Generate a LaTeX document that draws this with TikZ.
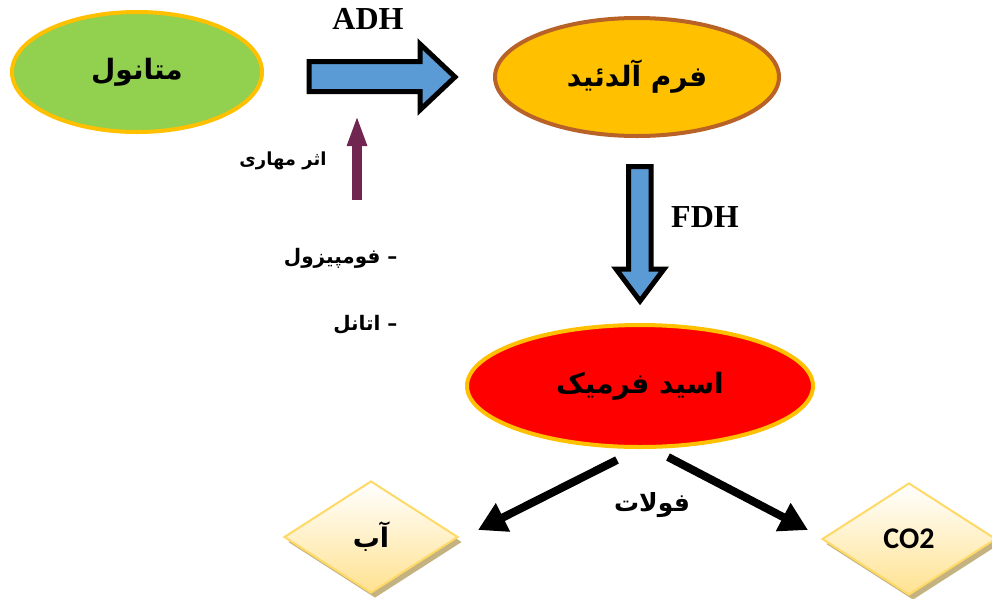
\documentclass[tikz,border=0pt]{standalone}
\usepackage{fontspec}
\setmainfont{Liberation Serif}
\newfontfamily\arabicfont[Script=Arabic]{DejaVu Sans}
\TeXXeTstate=1
\usetikzlibrary{shapes.geometric,shadows,arrows.meta}
\definecolor{leafgreen}{RGB}{146,208,80}
\definecolor{amber}{RGB}{255,192,0}
\definecolor{rust}{RGB}{184,98,40}
\definecolor{steelblue}{RGB}{91,155,213}
\definecolor{plum}{RGB}{112,38,80}
\definecolor{paleyellow}{RGB}{255,217,102}
\definecolor{cream}{RGB}{255,226,145}
\definecolor{khaki}{RGB}{196,178,128}
\newcommand{\fasize}[1]{\arabicfont\bfseries\fontsize{#1}{#1}\selectfont}

\begin{document}
\begin{tikzpicture}[x=1pt,y=-1pt,
  blob/.style={ellipse,line width=4pt,inner sep=0pt},
  product/.style={diamond,draw=paleyellow,line width=2pt,top color=white,bottom color=cream,
    minimum width=174pt,minimum height=112pt,inner sep=0pt,
    drop shadow={shadow xshift=4pt,shadow yshift=-5pt,fill=khaki,opacity=1}},
  blockarrow/.style={draw=black,line width=5pt,fill=steelblue,miter limit=10},
  flow/.style={line width=8pt,-{Triangle[width=30pt,length=28pt]}},
  enzyme/.style={font=\bfseries\fontsize{32}{32}\selectfont}]

\useasboundingbox (0,0) rectangle (992,598);

%substrates
\node[blob,fill=leafgreen,draw=amber,minimum width=250pt,minimum height=120pt] (methanol) at (137,72) {\raisebox{-5pt}{\fasize{28}\beginR متانول\endR}};
\node[blob,fill=amber,draw=rust,minimum width=284pt,minimum height=118pt] (formaldehyde) at (637,77) {\fasize{28}\beginR فرم آلدئید\endR};
\node[blob,fill=red,draw=amber,minimum width=346pt,minimum height=122pt] (formic) at (640,386) {\fasize{28}\beginR اسید فرمیک\endR};

%products
\node[product] (water) at (371,537) {\fasize{27}\beginR آب\endR};
\node[product] (carbon) at (909,539) {\fontspec{Carlito}\bfseries\fontsize{30}{30}\selectfont CO2};

%ADH step
\draw[blockarrow] (309,61.5) -- (420,61.5) -- (420,44) -- (455,77) -- (420,110) -- (420,91.5) -- (309,91.5) -- cycle;
\node[enzyme] (adh) at (368,19) {ADH};

%inhibition
\coordinate (inhtail) at (357,200);
\coordinate (inhtip) at (357,115);
\draw[plum,line width=10pt,-{Triangle[width=18pt,length=31pt]}] (inhtail) -- (inhtip);
\node (inhibit) at (283,161) {\fasize{18}\beginR اثر مهاری\endR};
\node[anchor=east] (fomepizole) at (401,258) {\fasize{20}\beginR – فومپیزول\endR};
\node[anchor=east] (ethanol) at (401,325) {\fasize{20}\beginR – اتانل\endR};

%FDH step
\draw[blockarrow] (628.5,166.5) -- (651,166.5) -- (651,269) -- (664,269) -- (640,301) -- (616,269) -- (628.5,269) -- cycle;
\node[enzyme] (fdh) at (705,217) {FDH};

%folate split
\coordinate (lefttail) at (617,460);
\coordinate (lefttip) at (478,530);
\coordinate (righttail) at (668,457);
\coordinate (righttip) at (808,530);
\draw[flow] (lefttail) -- (lefttip);
\draw[flow] (righttail) -- (righttip);
\node (folate) at (652,505) {\fasize{25}\beginR فولات\endR};

\end{tikzpicture}
\end{document}
